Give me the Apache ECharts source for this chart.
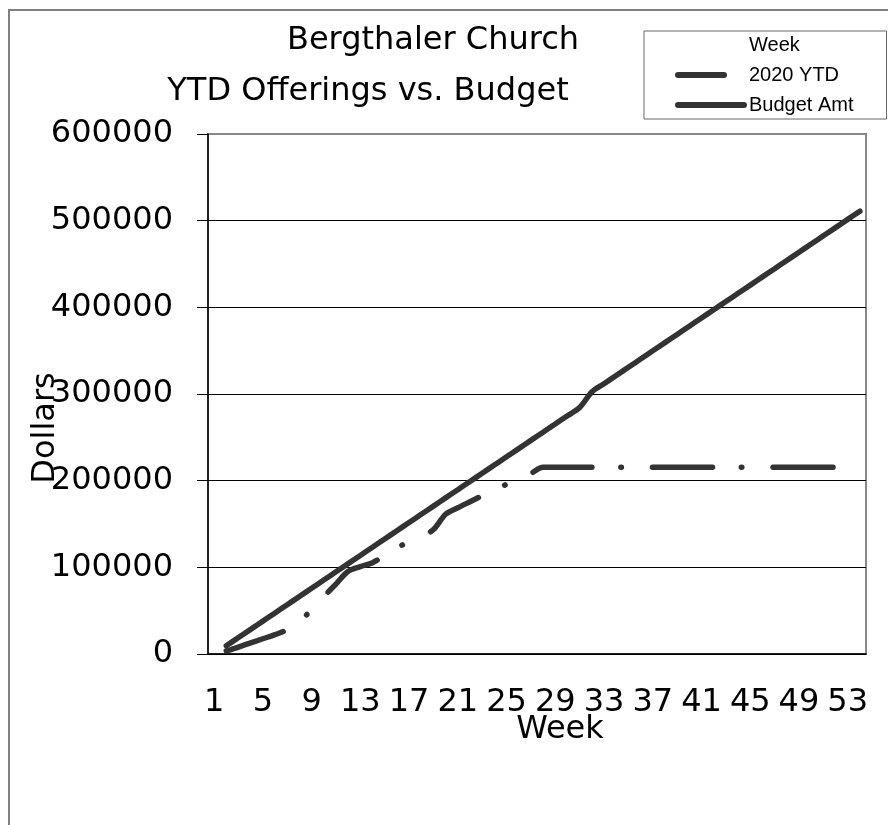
<!DOCTYPE html>
<html><head><meta charset="utf-8">
<script src="https://cdn.jsdelivr.net/npm/echarts@6/dist/echarts.min.js"></script>
<style>html,body{margin:0;padding:0;background:#fff}#c{width:888px;height:825px}</style>
</head><body><div id="c"></div>
<script>
const weeks = ['1','2','3','4','5','6','7','8','9','10','11','12','13','14','15','16','17','18','19','20','21','22','23','24','25','26','27','28','29','30','31','32','33','34','35','36','37','38','39','40','41','42','43','44','45','46','47','48','49','50','51','52','53','54'];
const ytd2020 = [null,3500,8000,12900,17600,22300,28100,37200,51200,66300,80700,95400,100900,105400,113500,122500,129500,135000,143600,161200,168700,175700,182700,189200,195800,201800,208300,215400,215400,215400,215400,215400,215400,215400,215400,215400,215400,215400,215400,215400,215400,215400,215400,215400,215400,215400,215400,215400,215400,215400,215400,215400,215400,215400];
const budgetAmt = [null,9480,18960,28440,37920,47400,56880,66360,75840,85320,94800,104280,113760,123240,132720,142200,151680,161160,170640,180120,189600,199080,208560,218040,227520,237000,246480,255960,265440,274920,284400,302400,311880,321360,330840,340320,349800,359280,368760,378240,387720,397200,406680,416160,425640,435120,444600,454080,463560,473040,482520,492000,501480,510960];
const titleLines = ['Bergthaler Church', 'YTD Offerings vs. Budget'];
const seriesNames = ['Week', '2020 YTD', 'Budget Amt'];

const chart = echarts.init(document.getElementById('c'));
const big = {fontFamily: 'DejaVu Sans', fontSize: 32, fontWeight: 'normal', color: '#000'};
chart.setOption({
  animation: false,
  backgroundColor: '#fff',
  graphic: [{type: 'rect', silent: true, z: -10, shape: {x: 9, y: 10, width: 1000, height: 1000}, style: {fill: 'none', stroke: '#808080', lineWidth: 2}}],
  title: [
    {text: titleLines[0], left: 433, top: 25, textAlign: 'center', textVerticalAlign: 'top', padding: 0, textStyle: big},
    {text: titleLines[1], left: 368, top: 76, textAlign: 'center', textVerticalAlign: 'top', padding: 0, textStyle: big}
  ],
  legend: {
    orient: 'vertical', left: 644, top: 31, padding: [4, 33, 4, 31], itemGap: 10,
    itemWidth: 66, itemHeight: 14, backgroundColor: '#fff', borderColor: '#666', borderWidth: 1,
    selectedMode: false,
    textStyle: {fontFamily: 'Liberation Sans', fontSize: 20, color: '#000'},
    lineStyle: {width: 6, cap: 'round'},
    data: [
      {name: seriesNames[0], itemStyle: {opacity: 0}, lineStyle: {opacity: 0}},
      {name: seriesNames[1], itemStyle: {opacity: 0}, lineStyle: {width: 6, cap: 'round', type: [46, 200]}},
      {name: seriesNames[2], itemStyle: {opacity: 0}, lineStyle: {width: 6, cap: 'round', type: 'solid'}}
    ]
  },
  grid: {left: 208, right: 22, top: 134, bottom: 171, show: true, borderColor: '#888', borderWidth: 2, outerBoundsMode: 'none'},
  xAxis: {
    type: 'category', data: weeks, boundaryGap: true,
    axisLine: {lineStyle: {color: '#000', width: 1.5}},
    axisTick: {interval: 0, length: 11, lineStyle: {color: '#000'}},
    axisLabel: Object.assign({interval: 3, margin: 33}, big),
    splitLine: {show: false},
    name: 'Week', nameLocation: 'middle', nameGap: 60, nameMoveOverlap: false,
    nameTextStyle: Object.assign({padding: [0, 0, 0, 46]}, big)
  },
  yAxis: {
    type: 'value', min: 0, max: 600000, interval: 100000,
    axisLine: {show: true, lineStyle: {color: '#000', width: 1.5}},
    axisTick: {show: true, length: 11, lineStyle: {color: '#000'}},
    axisLabel: Object.assign({margin: 35, formatter: function (v) { return String(v); }}, big),
    splitLine: {show: true, showMaxLine: false, lineStyle: {color: '#000', width: 1}},
    name: 'Dollars', nameLocation: 'middle', nameGap: 146, nameRotate: 90, nameMoveOverlap: false,
    nameTextStyle: Object.assign({padding: [0, 68, 0, 0]}, big)
  },
  series: [
    {name: seriesNames[0], type: 'line', data: [], showSymbol: false, silent: true, lineStyle: {opacity: 0}, itemStyle: {color: '#333'}},
    {name: seriesNames[1], type: 'line', data: ytd2020, smooth: 0.3, showSymbol: false, symbol: 'none',
     itemStyle: {color: '#333'},
     lineStyle: {color: '#333', width: 5.5, type: [60, 29, 0.5, 31], cap: 'round', join: 'round'}},
    {name: seriesNames[2], type: 'line', data: budgetAmt, smooth: 0.3, showSymbol: false, symbol: 'none',
     itemStyle: {color: '#333'},
     lineStyle: {color: '#333', width: 5.5, cap: 'round', join: 'round'}}
  ]
});
</script></body></html>
